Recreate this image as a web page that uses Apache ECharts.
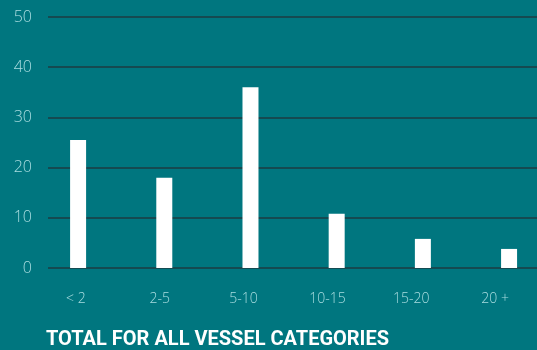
<!DOCTYPE html>
<html>
<head>
<meta charset="utf-8">
<script src="https://cdn.jsdelivr.net/npm/echarts@6/dist/echarts.min.js"></script>
<style>
  html, body { margin: 0; padding: 0; background: #00767f; }
  #chart { width: 537px; height: 350px; }
</style>
</head>
<body>
<div id="chart"></div>
<script>
// Vessel age bands and their counts
const categories = ['< 2', '2-5', '5-10', '10-15', '15-20', '20 +'];
const counts = [25.5, 18, 36, 10.8, 5.8, 3.8];
const yTicks = [0, 10, 20, 30, 40, 50];
const title = 'TOTAL FOR ALL VESSEL CATEGORIES';

const yMin = yTicks[0];
const yMax = yTicks[yTicks.length - 1];
const yStep = yTicks[1] - yTicks[0];

// bars sit on an index axis; the last band runs past the right edge
const barSlots = counts.map((v, i) => [i, v]);
const slotMin = -0.5;
const slotMax = 5.324;

const chart = echarts.init(document.getElementById('chart'), null, { renderer: 'canvas' });

chart.setOption({
  backgroundColor: '#00767f',
  animation: false,
  title: {
    text: title,
    left: 46,
    top: 330,
    padding: 0,
    textStyle: {
      color: '#ffffff',
      fontFamily: 'Roboto, sans-serif',
      fontWeight: 'bold',
      fontSize: 20
    }
  },
  grid: [
    // value gridlines + y labels
    { left: 48, right: 0, top: 17, height: 251 },
    // bars
    { left: 35, right: 0, top: 17, height: 251 },
    // category labels
    { left: 34, right: 0, top: 17, height: 251 }
  ],
  xAxis: [
    { gridIndex: 0, type: 'category', data: categories, show: false },
    { gridIndex: 1, type: 'value', min: slotMin, max: slotMax, show: false, splitLine: { show: false } },
    {
      gridIndex: 2, type: 'category', data: categories,
      axisLine: { show: false }, axisTick: { show: false },
      axisLabel: {
        color: '#a9dde0', fontSize: 14, margin: 24,
        fontFamily: 'Open Sans, sans-serif', fontWeight: 300
      }
    }
  ],
  yAxis: [
    {
      gridIndex: 0, type: 'value', min: yMin, max: yMax, interval: yStep,
      axisLine: { show: false }, axisTick: { show: false },
      axisLabel: {
        color: '#a9dde0', fontSize: 16, margin: 16,
        fontFamily: 'Open Sans, sans-serif', fontWeight: 300
      },
      splitLine: { lineStyle: { color: '#1d3d42', width: 1.5 } }
    },
    { gridIndex: 1, type: 'value', min: yMin, max: yMax, show: false, splitLine: { show: false } },
    { gridIndex: 2, type: 'value', min: yMin, max: yMax, show: false, splitLine: { show: false } }
  ],
  series: [
    {
      type: 'bar',
      xAxisIndex: 1,
      yAxisIndex: 1,
      data: barSlots,
      barWidth: 16,
      itemStyle: { color: '#ffffff' },
      z: 1
    }
  ]
});
</script>
</body>
</html>
